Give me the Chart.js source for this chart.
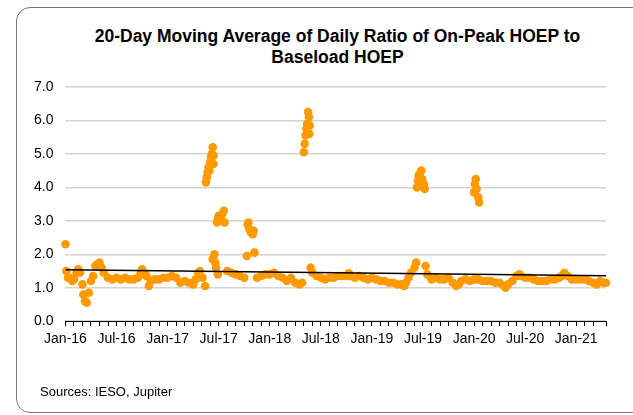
<!DOCTYPE html>
<html>
<head>
<meta charset="utf-8">
<script src="https://cdn.jsdelivr.net/npm/chart.js@4"></script>
<style>
  html, body { margin: 0; padding: 0; background: #fff; }
  body { width: 633px; height: 415px; position: relative; overflow: hidden; font-family: "Liberation Sans", Arial, sans-serif; }
  #frame { position: absolute; left: 16px; top: 7px; width: 700px; height: 404px; border: 1px solid #777; border-radius: 14px; }
  #title { position: absolute; left: 0; width: 675px; top: 26px; text-align: center; font-weight: bold; font-size: 17.5px; line-height: 21px; color: #000; }
  #source { position: absolute; left: 40px; top: 384px; font-size: 13px; color: #000; }
  #wrap { position: absolute; left: 0; top: 0; width: 633px; height: 415px; }
</style>
</head>
<body>
<div id="frame"></div>
<div id="title">20-Day Moving Average of Daily Ratio of On-Peak HOEP to<br>Baseload HOEP</div>
<div id="wrap"><canvas id="ratioChart"></canvas></div>
<div id="source">Sources: IESO, Jupiter</div>
<script>
// months since Jan-16 (0 = Jan-16) and the ratio
const monthPos = [
    0.0, 0.1, 0.3, 0.5, 0.8, 1.0, 1.3, 1.5, 1.7, 2.0, 2.1, 2.3, 2.5, 2.75, 3.0, 3.25, 3.5, 3.75, 4.0, 4.25,
    4.5, 5.0, 5.5, 6.0, 6.5, 7.0, 7.5, 8.0, 8.5, 8.8, 9.0, 9.3, 9.5, 9.8, 10.0, 10.5, 11.0, 11.5, 12.0, 12.5,
    13.0, 13.5, 14.0, 14.5, 15.0, 15.3, 15.6, 15.8, 16.1, 16.4,
    16.5, 16.6, 16.7, 16.8, 16.9, 17.0, 17.1, 17.2, 17.3, 17.4, 17.4,
    17.3, 17.5, 17.6, 17.7, 17.9,
    17.8, 17.9, 18.0, 18.2, 18.4, 18.6, 18.7,
    19.0, 19.5, 20.0, 20.5, 21.0, 21.3,
    21.4, 21.5, 21.6, 21.8, 22.0, 22.1,
    22.2, 22.5, 23.0, 23.5, 24.0, 24.5, 25.0, 25.5, 26.0, 26.5, 27.0, 27.5, 27.8,
    28.0, 28.1, 28.2, 28.3, 28.4, 28.5, 28.6, 28.65, 28.7,
    28.8, 29.0, 29.5, 30.0, 30.5, 31.0, 31.5, 32.0, 32.5, 33.0, 33.3, 33.5, 34.0, 34.5, 35.0, 35.5,
    36.0, 36.5, 37.0, 37.5, 38.0, 38.5, 39.0, 39.5, 39.8, 40.0, 40.3, 40.6, 41.0, 41.2,
    41.3, 41.4, 41.5, 41.6, 41.8, 41.9, 42.0, 42.1, 42.2,
    42.3, 42.5, 43.0, 43.5, 44.0, 44.5, 45.0, 45.5, 45.9, 46.2, 46.5, 47.0, 47.5, 48.0,
    48.0, 48.1, 48.2, 48.3, 48.5, 48.6,
    48.5, 49.0, 49.5, 50.0, 50.5, 51.0, 51.5, 51.7, 52.0, 52.5, 53.0, 53.3, 53.5, 54.0, 54.5, 55.0,
    55.5, 56.0, 56.5, 57.0, 57.5, 58.0, 58.3, 58.6, 59.0, 59.5, 60.0, 60.5, 61.0, 61.5, 62.0, 62.4,
    62.8, 63.2, 63.5
];
const ratioValues = [
    2.3, 1.5, 1.3, 1.3, 1.2, 1.25, 1.45, 1.55, 1.45, 1.1, 0.8, 0.6, 0.55, 0.85, 1.2, 1.35, 1.65, 1.7, 1.75, 1.6,
    1.45, 1.3, 1.25, 1.3, 1.25, 1.3, 1.25, 1.25, 1.3, 1.4, 1.55, 1.45, 1.35, 1.05, 1.2, 1.25, 1.25, 1.3, 1.3, 1.35,
    1.3, 1.15, 1.2, 1.15, 1.1, 1.25, 1.45, 1.5, 1.3, 1.05,
    4.15, 4.3, 4.45, 4.6, 4.5, 4.75, 4.9, 5.0, 5.2, 4.95, 4.7,
    1.85, 2.0, 1.75, 1.6, 1.4,
    2.95, 3.05, 3.15, 3.1, 3.2, 3.3, 2.95,
    1.5, 1.45, 1.4, 1.35, 1.3, 1.95,
    2.9, 2.95, 2.75, 2.65, 2.6, 2.7,
    2.05, 1.3, 1.35, 1.4, 1.4, 1.45, 1.35, 1.3, 1.2, 1.3, 1.15, 1.1, 1.15,
    5.05, 5.3, 5.55, 5.75, 5.9, 6.25, 6.1, 5.6, 5.85,
    1.6, 1.45, 1.35, 1.3, 1.25, 1.3, 1.3, 1.35, 1.35, 1.35, 1.43, 1.35, 1.3, 1.35, 1.3, 1.25,
    1.3, 1.25, 1.2, 1.2, 1.15, 1.15, 1.1, 1.1, 1.05, 1.15, 1.3, 1.45, 1.6, 1.75,
    4.0, 4.2, 4.35, 4.4, 4.5, 4.25, 4.05, 4.1, 3.95,
    1.65, 1.4, 1.25, 1.3, 1.25, 1.25, 1.3, 1.15, 1.05, 1.1, 1.2, 1.25, 1.2, 1.25,
    3.85, 4.1, 4.25, 3.95, 3.7, 3.55,
    1.25, 1.2, 1.2, 1.2, 1.15, 1.15, 1.05, 1.0, 1.1, 1.2, 1.35, 1.4, 1.35, 1.3, 1.3, 1.25,
    1.2, 1.2, 1.2, 1.25, 1.25, 1.3, 1.35, 1.45, 1.35, 1.25, 1.25, 1.25, 1.25, 1.2, 1.15, 1.1,
    1.2, 1.15, 1.15
];
// linear trend line, start and end
const trendPos = [0, 63.5];
const trendValues = [1.54, 1.36];

const xTickLabels = ['Jan-16', 'Jul-16', 'Jan-17', 'Jul-17', 'Jan-18', 'Jul-18',
                     'Jan-19', 'Jul-19', 'Jan-20', 'Jul-20', 'Jan-21'];
const yTicks = [0, 1, 2, 3, 4, 5, 6, 7];

const points = monthPos.map((m, i) => ({ x: m, y: ratioValues[i] }));
const trend = trendPos.map((m, i) => ({ x: m, y: trendValues[i] }));

Chart.defaults.font.family = '"Liberation Sans", Arial, sans-serif';
Chart.defaults.color = '#000';

new Chart(document.getElementById('ratioChart'), {
    type: 'scatter',
    data: {
        datasets: [
            {
                type: 'line',
                data: trend,
                borderColor: '#000',
                borderWidth: 1.5,
                pointRadius: 0,
                order: 0
            },
            {
                data: points,
                backgroundColor: '#FF9900',
                borderWidth: 0,
                pointRadius: 4.3,
                clip: false,
                order: 1
            }
        ]
    },
    options: {
        responsive: true,
        maintainAspectRatio: false,
        animation: false,
        layout: { padding: { left: 22, right: 27, top: 87, bottom: 62 } },
        plugins: {
            legend: { display: false },
            tooltip: { enabled: false }
        },
        scales: {
            x: {
                type: 'linear',
                min: 0,
                max: 63.5,
                grid: {
                    drawOnChartArea: false,
                    color: '#000',
                    tickLength: 5
                },
                border: { color: '#000', width: 1 },
                ticks: {
                    stepSize: 1,
                    autoSkip: false,
                    maxRotation: 0,
                    padding: 5,
                    font: { size: 14 },
                    callback: function(value) {
                        if (value % 6 !== 0) return '';
                        return xTickLabels[value / 6] || '';
                    }
                }
            },
            y: {
                min: 0,
                max: 7,
                afterBuildTicks: function(axis) {
                    axis.ticks = yTicks.map(v => ({ value: v }));
                },
                grid: {
                    color: '#d4d4d4',
                    lineWidth: 1.5,
                    drawTicks: false
                },
                border: { display: false },
                ticks: {
                    padding: 12,
                    font: { size: 14 },
                    callback: function(value) {
                        return value.toFixed(1);
                    }
                }
            }
        }
    }
});
</script>
</body>
</html>
